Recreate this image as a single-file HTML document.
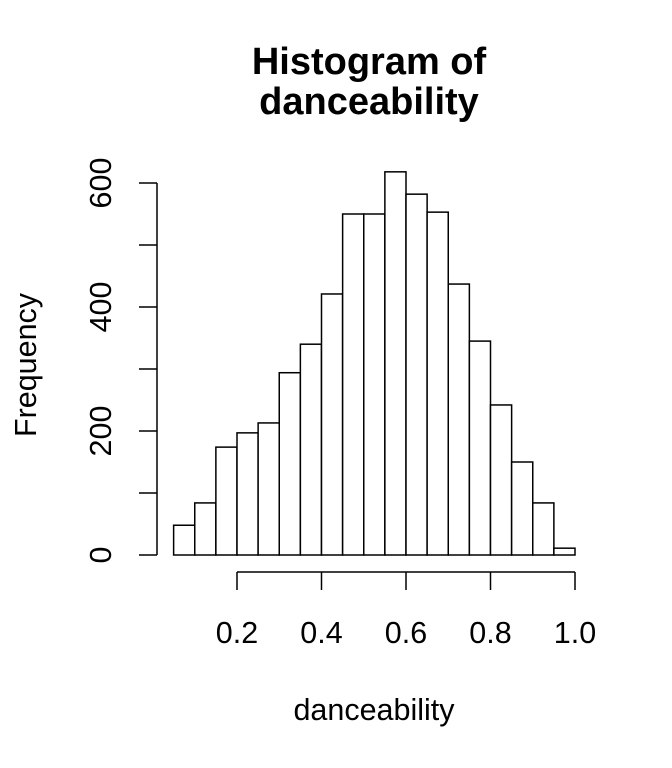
<!DOCTYPE html>
<html><head><meta charset="utf-8"><style>
html,body{margin:0;padding:0;background:#fff}
svg{display:block;font-family:"Liberation Sans",Arial,sans-serif}
</style></head><body>
<svg id="chart" width="672" height="768">
<text x="369" y="74" text-anchor="middle" font-size="38" font-weight="bold">Histogram of</text>
<text x="369" y="114" text-anchor="middle" font-size="38" font-weight="bold">danceability</text>
<text x="374" y="720" text-anchor="middle" font-size="30.5">danceability</text>
<text transform="translate(36,365) rotate(-90)" text-anchor="middle" font-size="30.5">Frequency</text>
<g id="bars"></g>
<g id="xaxis"></g>
<g id="yaxis"></g>
</svg>
<script>
const binStarts=[0.05,0.1,0.15,0.2,0.25,0.3,0.35,0.4,0.45,0.5,0.55,0.6,0.65,0.7,0.75,0.8,0.85,0.9,0.95];
const counts=[48,84,174,197,213,294,340,421,550,550,618,582,553,437,345,242,150,84,11];
const xTicks=[0.2,0.4,0.6,0.8,1.0];
const xTickLabels=["0.2","0.4","0.6","0.8","1.0"];
const yTicks=[0,100,200,300,400,500,600];
const yTickLabels=["0","","200","","400","","600"];
const binWidth=0.05;
const NS="http://www.w3.org/2000/svg";
function sx(v){return 152.5+v*422.5;}
function sy(v){return 555-v*0.62;}
function mk(tag,attrs,parent){const e=document.createElementNS(NS,tag);for(const k in attrs)e.setAttribute(k,attrs[k]);parent.appendChild(e);return e;}
const bars=document.getElementById('bars');
binStarts.forEach((b,i)=>{
 const x0=sx(b),x1=sx(b+binWidth),y=sy(counts[i]);
 const r=mk('rect',{x:x0,y:y,width:x1-x0,height:sy(0)-y,fill:'#fff',stroke:'#000','stroke-width':1.5},bars);
 
 
});
const xa=document.getElementById('xaxis');
mk('line',{x1:sx(xTicks[0]),x2:sx(xTicks[xTicks.length-1]),y1:572,y2:572,stroke:'#000','stroke-width':1.5},xa);
xTicks.forEach((t,i)=>{
 mk('line',{x1:sx(t),x2:sx(t),y1:572,y2:590,stroke:'#000','stroke-width':1.5},xa);
 const tx=mk('text',{x:sx(t),y:643,'text-anchor':'middle','font-size':30.5},xa);
 tx.textContent=xTickLabels[i];
 
 
});
const ya=document.getElementById('yaxis');
mk('line',{x1:157,x2:157,y1:sy(yTicks[0]),y2:sy(yTicks[yTicks.length-1]),stroke:'#000','stroke-width':1.5},ya);
yTicks.forEach((t,i)=>{
 mk('line',{x1:139,x2:157,y1:sy(t),y2:sy(t),stroke:'#000','stroke-width':1.5},ya);
 if(yTickLabels[i]){
  const tx=mk('text',{transform:'translate(111,'+sy(t)+') rotate(-90)','text-anchor':'middle','font-size':30.5},ya);
  tx.textContent=yTickLabels[i];
  
  
 }
});
</script>
</body></html>
